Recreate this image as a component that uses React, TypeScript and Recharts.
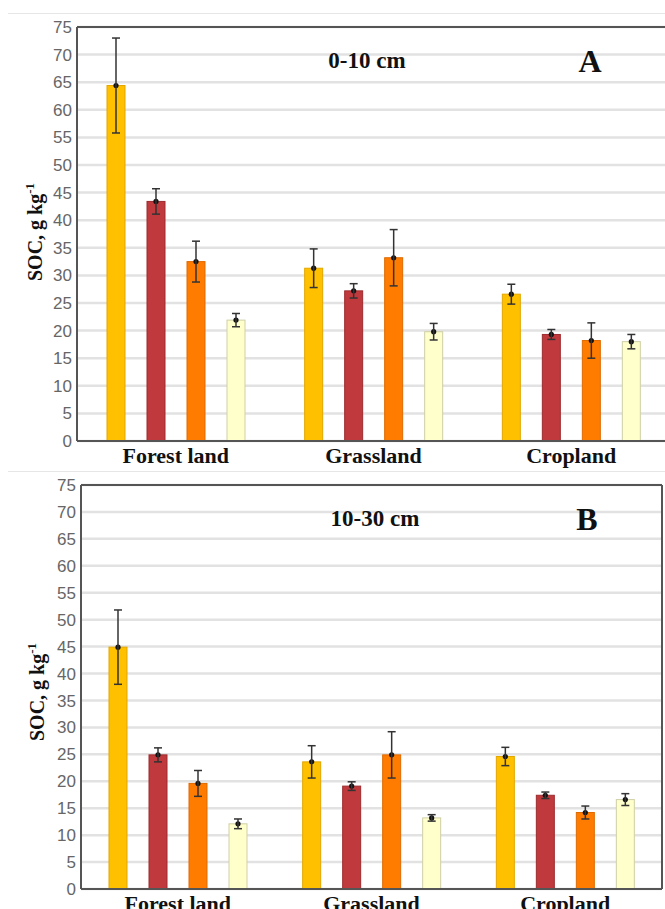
import React from 'react';
import { BarChart, Bar, XAxis, YAxis, CartesianGrid, ErrorBar, ReferenceLine } from 'recharts';

const categories = ['Forest land', 'Grassland', 'Cropland'];
const yTicks = [0, 5, 10, 15, 20, 25, 30, 35, 40, 45, 50, 55, 60, 65, 70, 75];

// Panel A: 0-10 cm
const a1 = [64.4, 31.3, 26.6];
const a1Err = [8.6, 3.5, 1.8];
const a2 = [43.4, 27.2, 19.3];
const a2Err = [2.3, 1.3, 0.9];
const a3 = [32.5, 33.2, 18.2];
const a3Err = [3.7, 5.1, 3.2];
const a4 = [21.9, 19.8, 18.0];
const a4Err = [1.2, 1.5, 1.3];

// Panel B: 10-30 cm
const b1 = [44.9, 23.6, 24.6];
const b1Err = [6.9, 3.0, 1.7];
const b2 = [24.9, 19.1, 17.4];
const b2Err = [1.3, 0.8, 0.6];
const b3 = [19.6, 24.9, 14.2];
const b3Err = [2.4, 4.3, 1.2];
const b4 = [12.1, 13.2, 16.6];
const b4Err = [0.9, 0.6, 1.1];

const build = (s1, e1, s2, e2, s3, e3, s4, e4) =>
  categories.map((name, i) => ({
    name,
    s1: s1[i], e1: e1[i],
    s2: s2[i], e2: e2[i],
    s3: s3[i], e3: e3[i],
    s4: s4[i], e4: e4[i],
  }));

const dataA = build(a1, a1Err, a2, a2Err, a3, a3Err, a4, a4Err);
const dataB = build(b1, b1Err, b2, b2Err, b3, b3Err, b4, b4Err);

const series = [
  { key: 's1', err: 'e1', fill: '#FFC000', stroke: '#E3A600' },
  { key: 's2', err: 'e2', fill: '#C0393C', stroke: '#9C2C2F' },
  { key: 's3', err: 'e3', fill: '#FF7C00', stroke: '#DF6A00' },
  { key: 's4', err: 'e4', fill: '#FFFFCC', stroke: '#CFCFA6' },
];

const serif = '"Liberation Serif", "Times New Roman", serif';
const sans = '"Liberation Sans", Arial, sans-serif';

function MeanBar(props: any) {
  const { x, y, width, height, fill, stroke } = props;
  if (width == null || height == null) return null;
  return (
    <g>
      <rect x={x} y={y} width={width} height={height} fill={fill} stroke={stroke} strokeWidth={1} />
      <circle cx={x + width / 2} cy={y} r={2.6} fill="#111" />
    </g>
  );
}

function Panel(props: any) {
  const { data, top, height, leftW, rightW, rightBorder, depth, letter, depthPos, letterPos, yTitlePos } = props;
  return (
    <div style={{ position: 'absolute', left: 0, top, width: 680, height }}>
      <BarChart
        width={680}
        height={height}
        data={data}
        margin={{ top: 27, right: 0, left: 0, bottom: 0 }}
        barSize={18}
        barGap={22}
      >
        <CartesianGrid yAxisId="left" vertical={false} stroke="#e2e2e2" strokeWidth={2.5} />
        <XAxis
          dataKey="name"
          height={29}
          axisLine={{ stroke: '#555', strokeWidth: 2 }}
          tickLine={false}
          tickSize={0}
          tickMargin={6}
          tick={{ fontFamily: serif, fontWeight: 'bold', fontSize: 22, fill: '#111' }}
        />
        <YAxis
          yAxisId="left"
          width={leftW}
          domain={[0, 75]}
          ticks={yTicks}
          interval={0}
          axisLine={{ stroke: '#555', strokeWidth: 2 }}
          tickLine={false}
          tickSize={0}
          tickMargin={5}
          tick={{ fontFamily: sans, fontSize: 17, fill: '#666' }}
        />
        <YAxis
          yAxisId="right"
          orientation="right"
          width={rightW}
          domain={[0, 75]}
          ticks={yTicks}
          interval={0}
          axisLine={rightBorder ? { stroke: '#555', strokeWidth: 2 } : false}
          tickLine={rightBorder ? { stroke: '#555' } : false}
          tickSize={3}
          tickFormatter={() => ''}
        />
        <ReferenceLine yAxisId="left" y={75} stroke="#555" strokeWidth={2} />
        {series.map((s) => (
          <Bar
            key={s.key}
            yAxisId="left"
            dataKey={s.key}
            fill={s.fill}
            stroke={s.stroke}
            isAnimationActive={false}
            shape={(p: any) => <MeanBar {...p} fill={s.fill} stroke={s.stroke} />}
          >
            <ErrorBar dataKey={s.err} width={4} stroke="#333" strokeWidth={1.5} direction="y" />
          </Bar>
        ))}
        <text x={depthPos[0]} y={depthPos[1]} textAnchor="middle" fontFamily={serif} fontWeight="bold" fontSize={23} fill="#111">
          {depth}
        </text>
        <text x={letterPos[0]} y={letterPos[1]} textAnchor="middle" fontFamily={serif} fontWeight="bold" fontSize={32} fill="#111">
          {letter}
        </text>
        <text
          transform={`translate(${yTitlePos[0]},${yTitlePos[1]}) rotate(-90)`}
          textAnchor="middle"
          fontFamily={serif}
          fontWeight="bold"
          fontSize={20}
          fill="#111"
        >
          SOC, g kg<tspan dy={-8} fontSize={13}>-1</tspan>
        </text>
      </BarChart>
    </div>
  );
}

export default function App() {
  return (
    <div style={{ position: 'absolute', left: 0, top: 0, width: 665, height: 909, overflow: 'hidden', background: '#fff' }}>
      <div style={{ position: 'absolute', left: 8, top: 13, width: 657, height: 1, background: '#e6e6e6' }} />
      <Panel
        data={dataA}
        top={0}
        height={470}
        leftW={77}
        rightW={10}
        rightBorder={false}
        depth="0-10 cm"
        letter="A"
        depthPos={[367, 68]}
        letterPos={[590, 72]}
        yTitlePos={[42, 232]}
      />
      <div style={{ position: 'absolute', left: 8, top: 471, width: 657, height: 1, background: '#e6e6e6' }} />
      <Panel
        data={dataB}
        top={458}
        height={460}
        leftW={81}
        rightW={18}
        rightBorder={true}
        depth="10-30 cm"
        letter="B"
        depthPos={[375, 526 - 458]}
        letterPos={[587, 530 - 458]}
        yTitlePos={[44, 692 - 458]}
      />
    </div>
  );
}
